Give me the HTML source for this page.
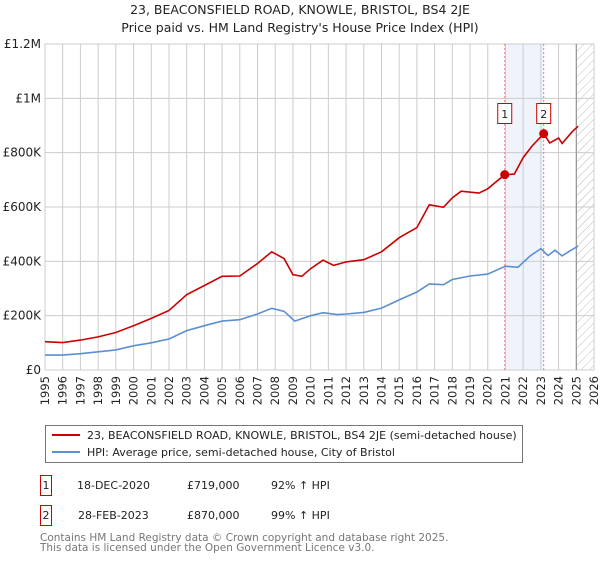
<!DOCTYPE html>
<html><head><meta charset="utf-8"><style>
html,body{margin:0;padding:0;background:#fff;}
body{width:600px;height:560px;overflow:hidden;font-family:"Liberation Sans","DejaVu Sans",sans-serif;}
svg text{font-family:"DejaVu Sans","Liberation Sans",sans-serif;}
</style></head><body>
<svg id="chart" width="600" height="560" xmlns="http://www.w3.org/2000/svg">
<text x="300" y="14" text-anchor="middle" font-size="12.5" fill="#222">23, BEACONSFIELD ROAD, KNOWLE, BRISTOL, BS4 2JE</text>
<text x="300" y="32" text-anchor="middle" font-size="12.5" fill="#222">Price paid vs. HM Land Registry's House Price Index (HPI)</text>
<defs><pattern id="hatch" width="6" height="6" patternUnits="userSpaceOnUse" patternTransform="rotate(45)"><line x1="0" y1="0" x2="0" y2="6" stroke="#bbb" stroke-width="1"/></pattern></defs>
<g id="grid"></g>
<g id="series"></g>
<g id="legend">
<rect x="45.5" y="425.5" width="477" height="37" fill="#fff" stroke="#777"/>
<line x1="52" y1="435" x2="80" y2="435" stroke="#cc0000" stroke-width="2"/>
<text x="87" y="439" font-size="11" fill="#222">23, BEACONSFIELD ROAD, KNOWLE, BRISTOL, BS4 2JE (semi-detached house)</text>
<line x1="52" y1="452" x2="80" y2="452" stroke="#5b8fd4" stroke-width="2"/>
<text x="87" y="456" font-size="11" fill="#222">HPI: Average price, semi-detached house, City of Bristol</text>
</g>
<g font-size="11" fill="#222">
<rect x="40.5" y="475.5" width="11" height="20" fill="#fff" stroke="#cc0000"/><text x="46" y="489" text-anchor="middle">1</text>
<text x="77" y="489">18-DEC-2020</text><text x="187" y="489">£719,000</text><text x="271" y="489">92% ↑ HPI</text>
<rect x="40.5" y="505.5" width="11" height="20" fill="#fff" stroke="#cc0000"/><text x="46" y="519" text-anchor="middle">2</text>
<text x="78" y="519">28-FEB-2023</text><text x="187" y="519">£870,000</text><text x="271" y="519">99% ↑ HPI</text>
</g>
<text x="40" y="541" font-size="10.5" fill="#777">Contains HM Land Registry data © Crown copyright and database right 2025.</text>
<text x="40" y="551" font-size="10.5" fill="#777">This data is licensed under the Open Government Licence v3.0.</text>
</svg>
<script>
const yTicks=[0,200000,400000,600000,800000,1000000,1200000];
const yTickLabels=["£0","£200K","£400K","£600K","£800K","£1M","£1.2M"];
const years=[1995,1996,1997,1998,1999,2000,2001,2002,2003,2004,2005,2006,2007,2008,2009,2010,2011,2012,2013,2014,2015,2016,2017,2018,2019,2020,2021,2022,2023,2024,2025,2026];
const hpiT=[1995,1996,1997,1998,1999,2000,2001,2002,2003,2004,2005,2006,2007,2007.8,2008.5,2009.1,2010,2010.7,2011.5,2012,2013,2014,2015,2016,2016.7,2017.5,2018,2019,2020,2021,2021.7,2022.4,2023,2023.4,2023.8,2024.2,2024.6,2025.1];
const hpiV=[55000,55000,60000,67000,74000,89000,100000,114000,145000,163000,180000,185000,206000,227000,216000,180000,200000,211000,204000,206000,212000,228000,258000,287000,317000,314000,333000,346000,353000,382000,378000,420000,447000,421000,441000,420000,437000,456000];
const propT=[1995,1996,1997,1998,1999,2000,2001,2002,2003,2004,2005,2006,2007,2007.8,2008.5,2009,2009.5,2010,2010.7,2011.3,2012,2013,2014,2015,2016,2016.7,2017.5,2018,2018.5,2019.5,2020,2020.96,2021.5,2022,2022.5,2023.16,2023.5,2024,2024.2,2024.8,2025.1];
const propV=[104000,101000,110000,122000,138000,163000,190000,219000,277000,311000,345000,346000,392000,435000,410000,351000,345000,373000,404000,385000,398000,406000,435000,487000,524000,608000,599000,634000,658000,651000,667000,719000,721000,782000,824000,870000,836000,854000,834000,879000,897000];
const saleT=[2020.96,2023.16];
const saleV=[719000,870000];
const saleLabels=["1","2"];
const X0=45,X1=594,Y0=370,Y1=44;
const xs=t=>X0+(t-1995)/(2026-1995)*(X1-X0);
const ys=v=>Y0-v/1200000*(Y0-Y1);
const NS="http://www.w3.org/2000/svg";
function mk(tag,attrs,parent){const e=document.createElementNS(NS,tag);for(const k in attrs)e.setAttribute(k,attrs[k]);parent.appendChild(e);return e;}
const grid=document.getElementById('grid'),ser=document.getElementById('series');
const shade=mk('rect',{x:xs(saleT[0]),y:Y1,width:xs(saleT[1])-xs(saleT[0]),height:Y0-Y1,fill:'#eef3fc'},grid);


const hatch=mk('rect',{x:xs(2025),y:Y1,width:X1-xs(2025),height:Y0-Y1,fill:'url(#hatch)'},grid);


years.forEach(y=>{
 const l=mk('line',{x1:xs(y),x2:xs(y),y1:Y1,y2:Y0,stroke:'#ccc'},grid);
 
 
 const t=mk('text',{x:0,y:0,transform:`translate(${xs(y)+4},${Y0+6}) rotate(-90)`,'text-anchor':'end','font-size':'11.5',fill:'#222'},grid);
 t.textContent=y;
 
 
});
yTicks.forEach((v,i)=>{
 const l=mk('line',{x1:X0,x2:X1,y1:ys(v),y2:ys(v),stroke:'#ccc'},grid);
 
 
 const t=mk('text',{x:X0-4,y:ys(v)+4,'text-anchor':'end','font-size':'12',fill:'#222'},grid);
 t.textContent=yTickLabels[i];
 
 
});
const ax=mk('line',{x1:xs(2025),x2:xs(2025),y1:Y1,y2:Y0,stroke:'#888'},grid);


saleT.forEach((t,i)=>{
 const l=mk('line',{x1:xs(t),x2:xs(t),y1:Y1,y2:Y0,stroke:'#f08080','stroke-dasharray':'2,2'},ser);
 
 
});
const pts=(T,V)=>T.map((t,i)=>xs(t).toFixed(1)+','+ys(V[i]).toFixed(1)).join(' ');
const hp=mk('polyline',{points:pts(hpiT,hpiV),fill:'none',stroke:'#5b8fd4','stroke-width':1.6},ser);


const pp=mk('polyline',{points:pts(propT,propV),fill:'none',stroke:'#cc0000','stroke-width':1.6},ser);


saleT.forEach((t,i)=>{
 const c=mk('circle',{cx:xs(t),cy:ys(saleV[i]),r:4.5,fill:'#cc0000'},ser);
 
 
 const b=mk('rect',{x:xs(t)-7,y:103.5,width:14,height:20,fill:'#fff',stroke:'#cc0000'},ser);
 
 
 const tx=mk('text',{x:xs(t),y:118,'text-anchor':'middle','font-size':'11',fill:'#222'},ser);
 tx.textContent=saleLabels[i];
 
 
});
</script>
</body></html>
